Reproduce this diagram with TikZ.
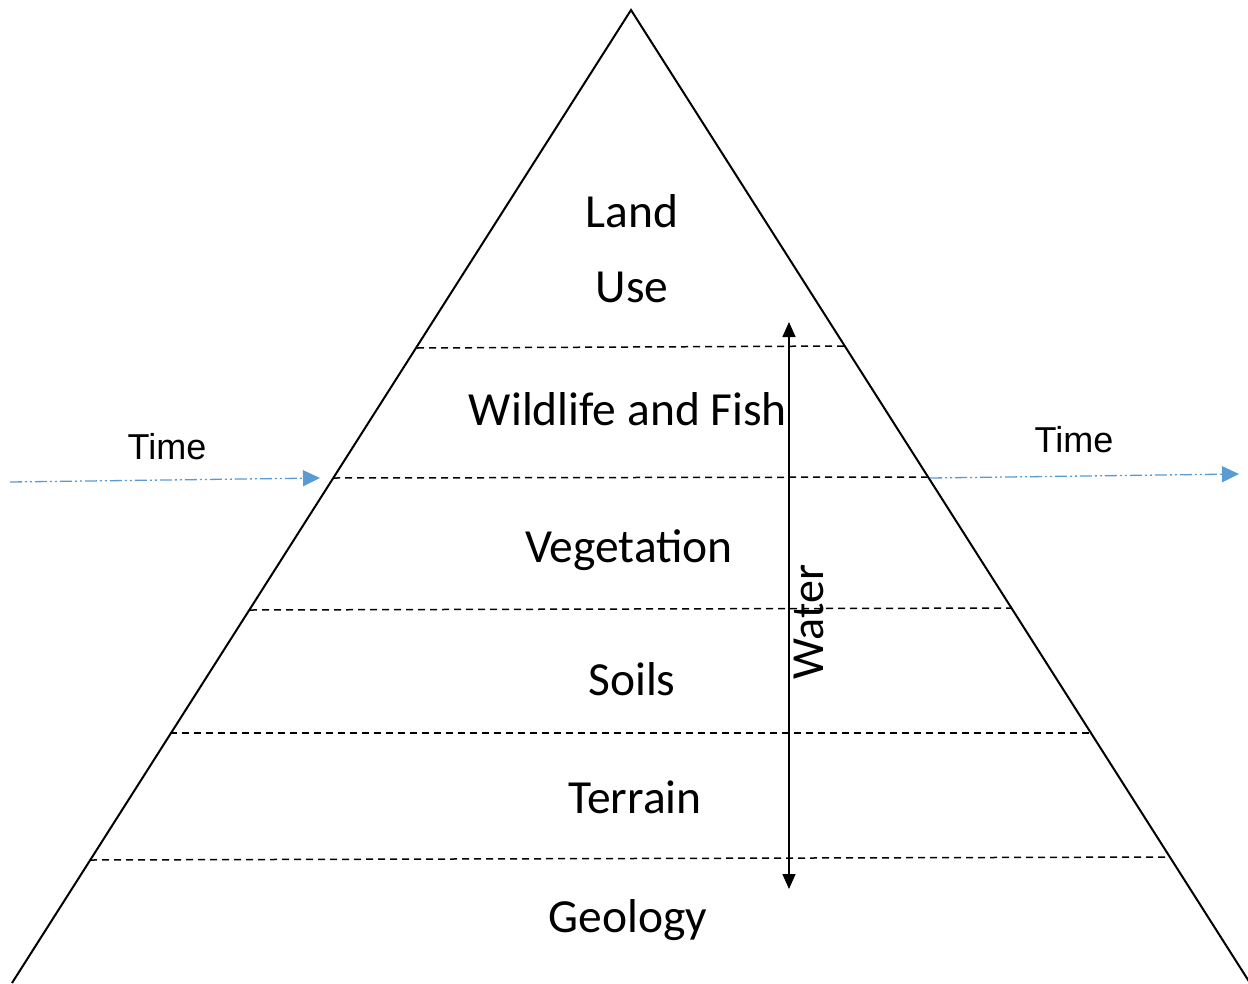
\documentclass[tikz,border=0pt]{standalone}
\usepackage{fontspec}
\setmainfont{Carlito}
\newfontfamily\arialfont{Liberation Sans}
\usetikzlibrary{arrows.meta}
\definecolor{timeblue}{HTML}{5B9BD5}
\tikzset{
  layertext/.style={font=\fontsize{47.5}{56}\selectfont, inner sep=0pt},
  timetext/.style={font=\arialfont\fontsize{36}{42}\selectfont, inner sep=0pt},
  layerline/.style={line width=1.5pt, dash pattern=on 7pt off 5pt},
  timearrow/.style={timeblue, line width=1.3pt, dash pattern=on 12pt off 3pt on 2pt off 3pt on 2pt off 3pt, -{Triangle[length=17pt,width=16pt]}},
  waterarrow/.style={line width=1.5pt, {Triangle[length=15pt,width=13pt]}-{Triangle[length=15pt,width=13pt]}}
}
\begin{document}
\begin{tikzpicture}[x=1pt,y=-1pt]
\useasboundingbox (0,0) rectangle (1248,983);
% triangle
\coordinate (apex) at (631,10);
\coordinate (bl) at (12,983);
\coordinate (br) at (1250,983);
\draw[line width=2pt, line join=miter] (bl) -- (apex) -- (br);
% layer lines
\coordinate (l1a) at (417,348); \coordinate (l1b) at (845,346);
\coordinate (l2a) at (333,478); \coordinate (l2b) at (930,477);
\coordinate (l3a) at (250,610); \coordinate (l3b) at (1012,608);
\coordinate (l4a) at (170,733); \coordinate (l4b) at (1090,733);
\coordinate (l5a) at (90,860);  \coordinate (l5b) at (1170,857);
\draw[layerline] (l1a) -- (l1b);
\draw[layerline] (l2a) -- (l2b);
\draw[layerline] (l3a) -- (l3b);
\draw[layerline] (l4a) -- (l4b);
\draw[layerline] (l5a) -- (l5b);
% labels
\node[layertext] (land) at (632,211) {Land};
\node[layertext] (use) at (632,287) {Use};
\node[layertext] (wild) at (628,409) {Wildlife and Fish};
\node[layertext] (veg) at (629,550) {Vegetation};
\node[layertext] (soils) at (632,679) {Soils};
\node[layertext] (terrain) at (635,797) {Terrain};
\node[layertext] (geology) at (628,920) {Geology};
% water
\coordinate (wtop) at (789,322);
\coordinate (wbot) at (789,889);
\draw[waterarrow] (wbot) -- (wtop);
\node[font=\fontsize{46}{54}\selectfont, inner sep=0pt, rotate=90] (water) at (809,622) {Water};
% time arrows
\coordinate (t1s) at (10,482); \coordinate (t1e) at (320,478);
\coordinate (t2s) at (930,478); \coordinate (t2e) at (1239,474);
\draw[timearrow] (t1s) -- (t1e);
\draw[timearrow] (t2s) -- (t2e);
\node[timetext] (time1) at (167,447) {Time};
\node[timetext] (time2) at (1074,440) {Time};
\end{tikzpicture}
\end{document}
